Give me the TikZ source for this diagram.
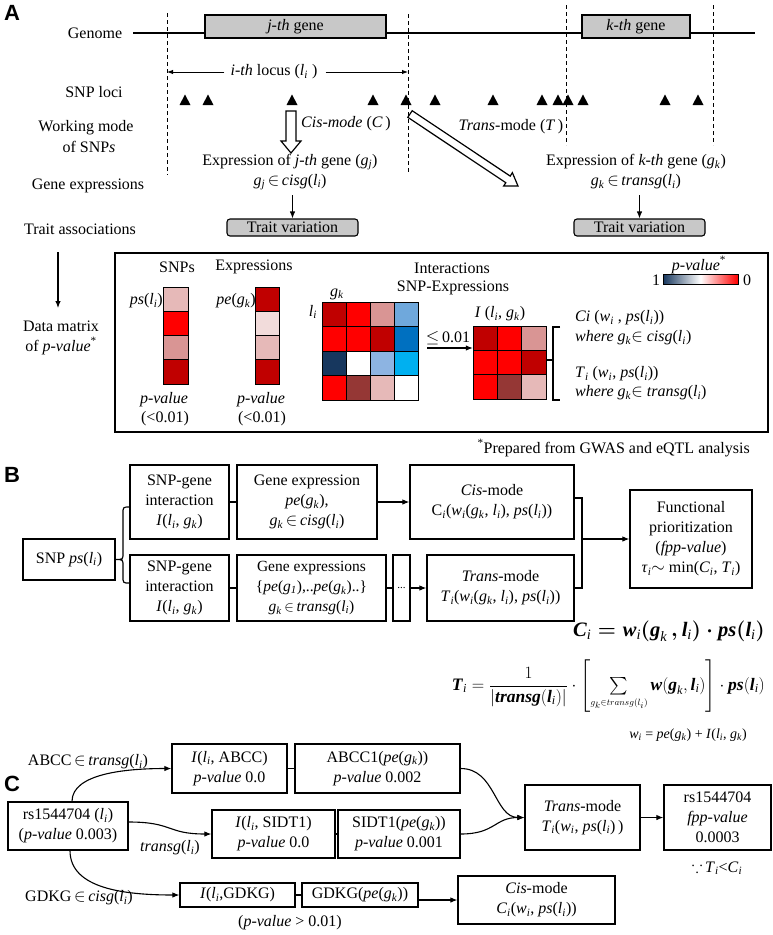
\documentclass[tikz,border=0pt]{standalone}
\usepackage{amsmath,amssymb}
\usepackage{fontspec}
\setmainfont{Liberation Serif}
\newfontfamily\panelfont{Liberation Sans}
\usetikzlibrary{arrows.meta}
\definecolor{hmR}{HTML}{FF0000}
\definecolor{hmDR}{HTML}{C00000}
\definecolor{hmPK}{HTML}{D99594}
\definecolor{hmLP}{HTML}{E6B9B8}
\definecolor{hmVL}{HTML}{F2DCDB}
\definecolor{hmBR}{HTML}{953735}
\definecolor{hmNV}{HTML}{17375E}
\definecolor{hmBL}{HTML}{0070C0}
\definecolor{hmLB}{HTML}{8DB4E2}
\definecolor{hmSB}{HTML}{00B0F0}
\definecolor{hmMB}{HTML}{6FA8DC}
\definecolor{hmW}{HTML}{FFFFFF}
\definecolor{geneg}{HTML}{C8C8C8}
\newcommand{\sbs}[1]{\textsubscript{\textit{#1}}}
\newcommand{\lsubi}{\textit{l}\sbs{i}}
\newcommand{\gsubk}{\textit{g}\sbs{k}}
\newcommand{\gsubj}{\textit{g}\sbs{j}}
\newcommand{\elm}{\,$\in$\,}
\newcommand{\bi}[1]{\textbf{\textit{#1}}}
\tikzset{
  base/.style={font=\fontsize{16}{20}\selectfont, inner sep=0pt},
  lab/.style={base, align=center},
  bx/.style={base, draw, line width=1.2pt, align=center},
  gene/.style={base, draw, fill=geneg, line width=1.1pt},
  dsh/.style={dashed, dash pattern=on 4pt off 3pt, line width=1pt},
  lw/.style={line width=1.2pt},
  arr/.style={-{Latex[length=7pt,width=5.5pt]}, line width=1.1pt},
  hc/.style={draw=black, line width=0.9pt},
  plet/.style={font=\panelfont\bfseries\fontsize{22}{22}\selectfont, inner sep=0pt}
}
\begin{document}
\begin{tikzpicture}[x=1pt,y=-1pt]
\useasboundingbox (0,0) rectangle (773,935);

% ================= Panel A =================
\node[plet] (lA) at (12,13) {A};
\node[lab] (tGen) at (95,33) {Genome};
\node[lab] (tSnp) at (94,92) {SNP loci};
\node[lab] (tWm1) at (86,128) {Working mode};
\node[lab] (tWm2) at (89,147) {of SNP\textit{s}};
\node[lab] (tGex) at (88,186) {Gene expressions};
\node[lab] (tTra) at (80,229) {Trait associations};
\node[lab] (tDm1) at (61,326) {Data matrix};
\node[lab] (tDm2) at (61,346) {of \textit{p-value}\textsuperscript{*}};
\coordinate (dmTop) at (58,252);
\coordinate (dmBot) at (58,308);
\draw[arr] (dmTop) -- (dmBot);

% genome
\draw[line width=2.6pt] (133,33) -- (755,33);
\draw[dsh] (167,13) -- (167,175);
\draw[dsh] (408,14) -- (408,172);
\draw[dsh] (566,5) -- (566,145);
\draw[dsh] (713,5) -- (713,145);
\node[gene, minimum width=181pt, minimum height=23pt] (jg) at (295.5,26.5) {\textit{j-th} gene};
\node[gene, minimum width=108pt, minimum height=23pt] (kg) at (636,26.5) {\textit{k-th} gene};

% locus
\node[lab] (loc) at (274,72) {\textit{i-th} locus (\lsubi\ )};
\coordinate (locL) at (167,72);
\coordinate (locR) at (408,72);
\draw[-{Latex[length=6pt,width=4.5pt]}, line width=0.9pt] ([xshift=-6pt]loc.west) -- (locL);
\draw[-{Latex[length=6pt,width=4.5pt]}, line width=0.9pt] ([xshift=8pt]loc.east) -- (locR);

% SNP triangles
\foreach \tx in {185,208,292,373,406,435,493,542,558,568,583,665,698}
  \fill (\tx-5.5,105) -- (\tx+5.5,105) -- (\tx,94.5) -- cycle;

% cis hollow arrow
\draw[line width=1.2pt, fill=white] (286,111) -- (296,111) -- (296,141) -- (301,141) -- (291,153) -- (281,141) -- (286,141) -- cycle;
\node[lab, anchor=west] (cisl) at (301,124) {\textit{Cis-mode} (\textit{C}\,)};
% trans hollow arrow
\draw[line width=1.2pt, fill=white] (412.2,110.7) -- (510.2,176.1) -- (512.4,172.7) -- (518,186) -- (503.6,186.1) -- (505.8,182.7) -- (407.8,117.3) -- cycle;
\node[lab] (transl) at (511,127) {\textit{Trans}-mode (\textit{T}\,)};

% expressions
\node[lab] (exj) at (290,172) {Expression of \textit{j-th} gene (\gsubj)\\\gsubj\elm\textit{cisg}(\lsubi)};
\node[lab] (exk) at (636,172) {Expression of \textit{k-th} gene (\gsubk)\\\gsubk\elm\textit{transg}(\lsubi)};
\node[gene, rounded corners=3pt, minimum width=131pt, minimum height=17pt] (tv1) at (292.5,227.5) {Trait variation};
\node[gene, rounded corners=3pt, minimum width=131pt, minimum height=17pt] (tv2) at (639.5,227.5) {Trait variation};
\draw[arr] (tv1.north |- 0,195) -- (tv1.north);
\draw[arr] (tv2.north |- 0,195) -- (tv2.north);

% data matrix box
\draw[line width=2.6pt] (115,253) rectangle (768,432);
\node[lab] (snps) at (177,267) {SNPs};
\node[lab] (exps) at (254,267) {Expressions};
\node[lab, anchor=east] (psl) at (163,301) {\textit{ps}(\lsubi)};
\node[lab, anchor=east] (pel) at (256,301) {\textit{pe}(\gsubk)};
\foreach \cl [count=\k from 0] in {hmLP,hmR,hmPK,hmDR}
  \filldraw[hc, fill=\cl] (163,{287+24.25*\k}) rectangle ++(25,24.25);
\foreach \cl [count=\k from 0] in {hmDR,hmVL,hmLP,hmDR}
  \filldraw[hc, fill=\cl] (255,{287+24.25*\k}) rectangle ++(24,24.25);
\node[lab] (pv1) at (164,400) {\textit{p-value}};
\node[lab] (lt1) at (165,419) {(<0.01)};
\node[lab] (pv2) at (261,400) {\textit{p-value}};
\node[lab] (lt2) at (262,419) {(<0.01)};

\node[lab] (inter) at (452,268) {Interactions};
\node[lab] (snpe) at (453,288) {SNP-Expressions};
\node[lab] (gkl) at (337,294) {\gsubk};
\node[lab] (lil) at (313,312) {\lsubi};
\foreach \cl [count=\k from 0] in {hmDR,hmR,hmPK,hmMB, hmR,hmR,hmDR,hmBL, hmNV,hmW,hmLB,hmSB, hmR,hmBR,hmLP,hmW}{
  \pgfmathtruncatemacro\rowi{int(\k/4)}
  \pgfmathtruncatemacro\coli{mod(\k,4)}
  \filldraw[hc, fill=\cl] ({322+24*\coli},{302+24.5*\rowi}) rectangle ++(24,24.5);
}
\node[minimum width=96pt, minimum height=98pt, inner sep=0pt] (hm) at (370,351) {};
\foreach \cl [count=\k from 0] in {hmDR,hmR,hmPK, hmR,hmR,hmDR, hmR,hmBR,hmLP}{
  \pgfmathtruncatemacro\rowi{int(\k/3)}
  \pgfmathtruncatemacro\coli{mod(\k,3)}
  \filldraw[hc, fill=\cl] ({473+24.33*\coli},{326+24.33*\rowi}) rectangle ++(24.33,24.33);
}
\node[minimum width=73pt, minimum height=73pt, inner sep=0pt] (im) at (509.5,362.5) {};
\node[lab] (ilab) at (500,314) {\textit{I} (\lsubi , \gsubk)};
\coordinate (ltA) at (427,348);
\draw[arr] (ltA) -- (im.west |- ltA);
\node[lab] (ltl) at (448,338) {$\leq$\,0.01};
\draw[line width=1.2pt] (560,327) -- (553,327) -- (553,400) -- (560,400);
\draw[line width=1.2pt] (553,360) -- (546,360);
\node[lab, anchor=west] (ci1) at (575,318) {\textit{Ci} (\textit{w}\sbs{i} , \textit{ps}(\lsubi))};
\node[lab, anchor=west] (ci2) at (575,338) {\textit{where} \gsubk$\in$ \textit{cisg}(\lsubi)};
\node[lab, anchor=west] (ti1) at (575,374) {\textit{T}\sbs{i} (\textit{w}\sbs{i}, \textit{ps}(\lsubi))};
\node[lab, anchor=west] (ti2) at (575,393) {\textit{where} \gsubk$\in$ \textit{transg}(\lsubi)};
% legend
\node[lab] (pvl) at (699,265) {\textit{p-value}\textsuperscript{*}};
\shade[left color=hmNV, right color=hmR, middle color=white] (663,274) rectangle (738,284);
\draw[line width=0.9pt] (663,274) rectangle (738,284);
\node[lab] (one) at (656,280) {1};
\node[lab] (zero) at (747,280) {0};
\node[lab, anchor=east] (prep) at (750,448) {\textsuperscript{*}Prepared from GWAS and eQTL analysis};

% ================= Panel B =================
\node[plet] (lB) at (12,475) {B};
\node[bx, minimum width=92pt, minimum height=41pt] (snp) at (69,559.5) {SNP \textit{ps}(\lsubi)};
\node[bx, minimum width=99pt, minimum height=74pt] (sg1) at (179.5,502) {SNP-gene\\interaction\\\textit{I}(\lsubi, \gsubk)};
\node[bx, minimum width=140pt, minimum height=74pt] (ge1) at (307,502) {Gene expression\\\textit{pe}(\gsubk),\\\gsubk\elm\textit{cisg}(\lsubi)};
\node[bx, minimum width=164pt, minimum height=74pt] (cis) at (492,502) {\textit{Cis}-mode\\C\sbs{i}(\textit{w}\sbs{i}(\gsubk, \lsubi), \textit{ps}(\lsubi))};
\node[bx, minimum width=99pt, minimum height=66pt] (sg2) at (179.5,588) {SNP-gene\\interaction\\\textit{I}(\lsubi, \gsubk)};
\node[bx, minimum width=149pt, minimum height=66pt, font=\fontsize{15.5}{20}\selectfont] (ge2) at (311.5,588) {Gene expressions\\\{\textit{pe}(\textit{g}\sbs{1}),..\textit{pe}(\gsubk)..\}\\\gsubk\elm\textit{transg}(\lsubi)};
\node[bx, minimum width=17pt, minimum height=66pt, font=\fontsize{11}{12}\selectfont] (dotsb) at (401.5,588) {...};
\node[bx, minimum width=147pt, minimum height=66pt] (trans) at (500.5,588) {\textit{Trans}-mode\\\textit{T}\sbs{i}(\textit{w}\sbs{i}(\gsubk, \lsubi), \textit{ps}(\lsubi))};
\node[bx, minimum width=122pt, minimum height=98pt] (func) at (691,539) {Functional\\prioritization\\(\textit{fpp-value})\\\textit{τ}\sbs{i}$\sim$ min(\textit{C}\sbs{i}, \textit{T}\sbs{i})};
\draw[lw] ([yshift=-5pt]sg1.west) .. controls (123,507) .. (123,514) -- (123,553) .. controls (123,559.5) .. (snp.east) .. controls (123,559.5) .. (123,566) -- (123,576) .. controls (123,583) .. ([yshift=5pt]sg2.west);
\draw[lw] (sg1.east) -- (ge1.west);
\draw[arr] (ge1.east) -- (cis.west);
\draw[lw] (sg2.east) -- (ge2.west);
\draw[lw] (ge2.east) -- (dotsb.west);
\draw[arr] (dotsb.east) -- (trans.west);
\coordinate (mrg) at (582,539);
\draw[lw] ([yshift=4pt]cis.east) -| (mrg) |- (trans.east);
\draw[arr] (mrg) -- (func.west);

% formulas
\node[anchor=east, inner sep=0pt, font=\fontsize{20.5}{22}\selectfont\boldmath] (fC) at (765,631)
  {$\bi{C}_{\textit{i}} = \bi{w}_{\textit{i}}(\bi{g}_{\textit{k}}\,, \bi{l}_{\textit{i}})\cdot \bi{ps}(\bi{l}_{\textit{i}})$};
\node[anchor=east, inner sep=0pt, font=\fontsize{17.5}{20}\selectfont] (fT) at (765,686)
  {$\bi{T}_{\textit{i}} = \dfrac{1}{\left|\bi{transg}(\bi{l}_{\textit{i}})\right|}\cdot\left[\sum\limits_{\scriptscriptstyle g_k\in transg(l_i)} \bi{w}(\bi{g}_{\textit{k}},\bi{l}_{\textit{i}})\right]\cdot\bi{ps}(\bi{l}_{\textit{i}})$};
\node[anchor=east, inner sep=0pt, font=\fontsize{14}{16}\selectfont] (fW) at (747,735)
  {\textit{w}\sbs{i} = \textit{pe}(\gsubk) + \textit{I}(\lsubi, \gsubk)};

% ================= Panel C =================
\node[plet] (lC) at (12,784) {C};
\node[bx, minimum width=120pt, minimum height=48pt] (rs) at (68,826) {rs1544704 (\lsubi)\\(\textit{p-value} 0.003)};
\node[bx, minimum width=115pt, minimum height=49pt] (iabcc) at (229.5,768.5) {\textit{I}(\lsubi, ABCC)\\\textit{p-value} 0.0};
\node[bx, minimum width=165pt, minimum height=49pt] (abcc1) at (377.5,768.5) {ABCC1(\textit{pe}(\gsubk))\\\textit{p-value} 0.002};
\node[bx, minimum width=123pt, minimum height=48pt] (isidt) at (273.5,834) {\textit{I}(\lsubi, SIDT1)\\\textit{p-value} 0.0};
\node[bx, minimum width=122pt, minimum height=48pt] (sidt1) at (399,834) {SIDT1(\textit{pe}(\gsubk))\\\textit{p-value} 0.001};
\node[bx, minimum width=115pt, minimum height=24pt] (igdkg) at (237.5,895) {\textit{I}(\lsubi ,GDKG)};
\node[bx, minimum width=116pt, minimum height=24pt] (gdkg) at (360,895) {GDKG(\textit{pe}(\gsubk))};
\node[bx, minimum width=157pt, minimum height=48pt] (cisc) at (536.5,900) {\textit{Cis}-mode\\\textit{C}\sbs{i}(\textit{w}\sbs{i}, \textit{ps}(\lsubi))};
\node[bx, minimum width=115pt, minimum height=65pt] (transc) at (582.5,817.5) {\textit{Trans}-mode\\\textit{T}\sbs{i}(\textit{w}\sbs{i}, \textit{ps}(\lsubi)\,)};
\node[bx, minimum width=107pt, minimum height=65pt] (fpp) at (717.5,817.5) {rs1544704\\\textit{fpp-value}\\0.0003};
\node[lab] (lab1) at (88,762) {ABCC\elm\textit{transg}(\lsubi)};
\node[lab] (lab2) at (170,848) {\textit{transg}(\lsubi)};
\node[lab] (lab3) at (79,898) {GDKG\elm\textit{cisg}(\lsubi)};
\node[lab] (lab4) at (290,923) {(\textit{p-value} > 0.01)};
\node[lab] (lab5) at (717,868) {$\because$\,\textit{T}\sbs{i}<\textit{C}\sbs{i}};

\draw[lw] (iabcc.east) -- (abcc1.west);
\draw[lw] (isidt.east) -- (sidt1.west);
\draw[lw] (igdkg.east) -- (gdkg.west);
\draw[arr] ([xshift=4pt]rs.north) .. controls +(0,-28) and +(-45,0) .. (iabcc.west);
\draw[arr] ([yshift=4pt]rs.east) .. controls +(45,0) and +(-45,0) .. (isidt.west);
\draw[arr] ([xshift=2pt]rs.south) .. controls +(0,38) and +(-55,0) .. (igdkg.west);
\draw[arr] (abcc1.east) .. controls +(35,0) and +(-30,0) .. (transc.west);
\draw[arr] (sidt1.east) .. controls +(35,0) and +(-30,0) .. (transc.west);
\draw[arr] (transc.east) -- (fpp.west);
\draw[arr] (gdkg.east |- cisc.west) -- (cisc.west);
\end{tikzpicture}
\end{document}
